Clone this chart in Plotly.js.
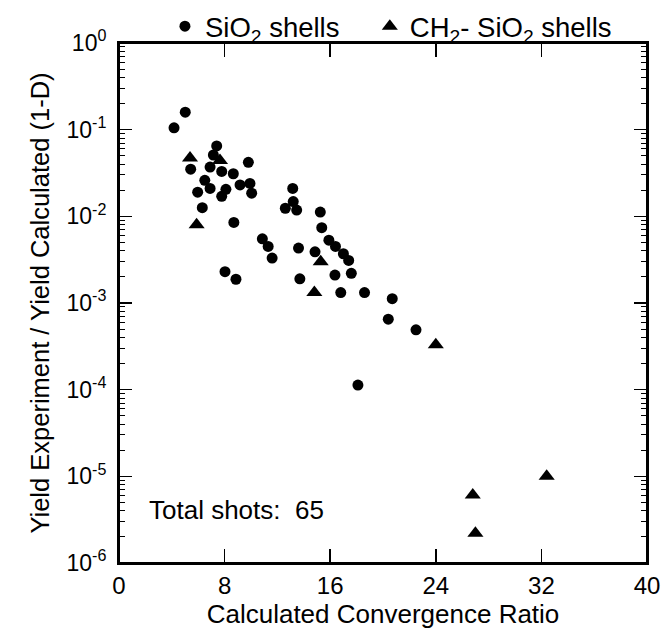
<!DOCTYPE html>
<html>
<head>
<meta charset="utf-8">
<script src="https://cdn.plot.ly/plotly-3.0.1.min.js"></script>
<style>
html,body{margin:0;padding:0;background:#fff;}
#wrap{position:relative;width:663px;height:640px;}
#chart{position:absolute;left:0;top:0;width:663px;height:640px;}
#frame{position:absolute;left:0;top:0;width:663px;height:640px;pointer-events:none;z-index:10;}
#frame div{position:absolute;background:#000;}
</style>
</head>
<body>
<div id="wrap"><div id="chart"></div><div id="frame"></div></div>
<script>
// SiO2 shells (circles)
const sio2X = [4.17, 5.02, 5.43, 7.4, 7.15, 6.9, 7.78, 8.66, 9.8, 6.5, 6.9, 9.17, 9.92, 10.05, 8.1, 7.78, 5.96, 6.31, 8.7, 10.86, 11.3, 11.6, 8.03, 8.86, 13.16, 12.6, 13.2, 13.46, 13.6, 13.7, 15.25, 15.36, 15.9, 16.4, 17.0, 17.4, 17.6, 14.85, 16.36, 16.8, 18.6, 20.7, 20.4, 22.5, 18.1];
const sio2Y = [0.105, 0.159, 0.035, 0.065, 0.051, 0.037, 0.033, 0.031, 0.042, 0.026, 0.021, 0.023, 0.024, 0.0185, 0.0205, 0.017, 0.019, 0.0126, 0.0085, 0.0055, 0.0045, 0.0033, 0.0023, 0.00188, 0.021, 0.0124, 0.0148, 0.0118, 0.0043, 0.0019, 0.0112, 0.0074, 0.0053, 0.0045, 0.0037, 0.0031, 0.0022, 0.0039, 0.0021, 0.00132, 0.00132, 0.00112, 0.00065, 0.00049, 0.000113];
// CH2-SiO2 shells (triangles)
const ch2X = [5.38, 7.65, 5.88, 15.28, 14.8, 24.0, 26.8, 27.0, 32.4];
const ch2Y = [0.047, 0.044, 0.0080, 0.0030, 0.00132, 0.00033, 0.0000061, 0.0000022, 0.0000100];

const xTickVals = [0, 8, 16, 24, 32, 40];
const yTickVals = [1e-6, 1e-5, 1e-4, 1e-3, 1e-2, 1e-1, 1];
const yTickText = ['10<sup>-6</sup>', '10<sup>-5</sup>', '10<sup>-4</sup>', '10<sup>-3</sup>', '10<sup>-2</sup>', '10<sup>-1</sup>', '10<sup>0</sup>'];
const yMinorDigits = [2, 3, 4, 5, 6, 7, 8, 9];

const yMinorVals = [];
yTickVals.slice(0, -1).forEach(d => yMinorDigits.forEach(m => yMinorVals.push(d * m)));

const FONT = '"Liberation Sans", Arial, Helvetica, sans-serif';
const X_RANGE = [0, 40];
const Y_RANGE_LOG = [-6, 0];
const MARGIN = {l: 119, r: 16, t: 43, b: 77};
const W_PAGE = 663, H_PAGE = 640;

const traces = [
  {x: sio2X, y: sio2Y, type: 'scatter', mode: 'markers', name: 'SiO<sub>2</sub> shells', legend: 'legend',
   marker: {symbol: 'circle', size: 11, color: 'black', line: {width: 0}}},
  {x: ch2X, y: ch2Y, type: 'scatter', mode: 'markers', name: 'CH<sub>2</sub>- SiO<sub>2</sub> shells', legend: 'legend2',
   marker: {symbol: 'triangle-up', size: 14, color: 'black', line: {width: 0}}}
];

const axisLine = {showline: true, linewidth: 2, linecolor: 'black', showgrid: false, zeroline: false};
const legendFont = {family: FONT, size: 27.5, color: 'black'};

const layout = {
  width: W_PAGE, height: H_PAGE,
  margin: Object.assign({pad: 0, autoexpand: false}, MARGIN),
  paper_bgcolor: 'white', plot_bgcolor: 'white',
  font: {family: FONT, size: 24, color: 'black'},
  showlegend: true,
  legend: {orientation: 'h', x: 0.087, xanchor: 'left', y: 1.032, yanchor: 'middle',
           font: legendFont, bgcolor: 'rgba(0,0,0,0)', itemwidth: 30},
  legend2: {orientation: 'h', x: 0.475, xanchor: 'left', y: 1.032, yanchor: 'middle',
           font: legendFont, bgcolor: 'rgba(0,0,0,0)', itemwidth: 30},
  xaxis: Object.assign({
    range: X_RANGE, tickmode: 'array', tickvals: xTickVals,
    ticks: 'inside', ticklen: 14, tickwidth: 1.5, tickcolor: 'black',
    mirror: 'allticks',
    tickfont: {family: FONT, size: 24, color: 'black'},
    title: {text: 'Calculated Convergence Ratio', font: {family: FONT, size: 26, color: 'black'}, standoff: 7}
  }, axisLine),
  yaxis: Object.assign({
    type: 'log', range: Y_RANGE_LOG, tickmode: 'array', tickvals: yTickVals, ticktext: yTickText,
    ticks: 'inside', ticklen: 13, tickwidth: 1.5, tickcolor: 'black',
    mirror: 'allticks',
    ticklabelstandoff: 6,
    tickfont: {family: FONT, size: 23, color: 'black'},
    title: {text: 'Yield Experiment / Yield Calculated (1-D)', font: {family: FONT, size: 25.5, color: 'black'}, standoff: 10}
  }, axisLine),
  annotations: [
    {text: 'Total shots:  65', xref: 'paper', yref: 'paper', x: 0.053, y: 0.102,
     xanchor: 'left', yanchor: 'middle', showarrow: false,
     font: {family: FONT, size: 26, color: 'black'}}
  ]
};

Plotly.newPlot('chart', traces, layout, {staticPlot: true, displayModeBar: false});

// Frame + tick marks overlay, drawn synchronously from the same axis ranges
(function drawFrame() {
  const frame = document.getElementById('frame');
  const L = MARGIN.l, T = MARGIN.t;
  const W = W_PAGE - MARGIN.l - MARGIN.r, H = H_PAGE - MARGIN.t - MARGIN.b;
  const xPix = v => L + (v - X_RANGE[0]) / (X_RANGE[1] - X_RANGE[0]) * W;
  const yPix = v => T + H - (Math.log10(v) - Y_RANGE_LOG[0]) / (Y_RANGE_LOG[1] - Y_RANGE_LOG[0]) * H;
  const box = (l, t, w, h) => {
    const d = document.createElement('div');
    d.style.left = l + 'px'; d.style.top = t + 'px';
    d.style.width = w + 'px'; d.style.height = h + 'px';
    frame.appendChild(d);
  };
  box(L - 1, T - 1, 2, H + 2);
  box(L + W - 1, T - 1, 2, H + 2);
  box(L - 1, T - 1, W + 2, 2);
  box(L - 1, T + H - 1, W + 2, 2);
  xTickVals.slice(1, -1).forEach(v => {
    const x = xPix(v);
    box(x - 0.75, T + H - 14, 1.5, 14);
    box(x - 0.75, T, 1.5, 14);
  });
  yTickVals.slice(1, -1).forEach(v => {
    const y = yPix(v);
    box(L, y - 0.75, 13, 1.5);
    box(L + W - 13, y - 0.75, 13, 1.5);
  });
  yMinorVals.forEach(v => {
    const y = yPix(v);
    box(L, y - 0.5, 6, 1);
    box(L + W - 6, y - 0.5, 6, 1);
  });
})();
</script>
</body>
</html>
